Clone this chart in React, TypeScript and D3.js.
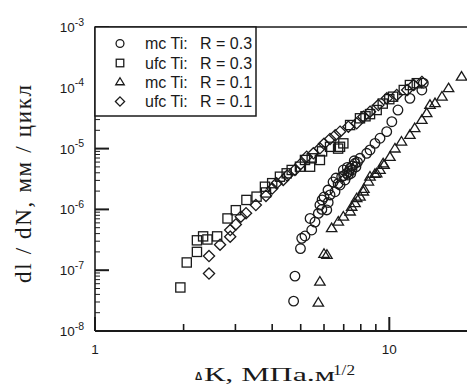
import React from "react";
import * as d3 from "d3";

// ---- data (ΔK in MPa·m^1/2, dl/dN in mm/cycle) ----
const mcTiR03: [number, number][] = [
  [4.73, 3.1e-8], [4.78, 8.0e-8], [4.99, 2.27e-7], [5.04, 3.35e-7], [5.17, 3.65e-7],
  [5.45, 4.58e-7], [5.38, 7.1e-7], [5.59, 6.2e-7], [5.74, 8.6e-7], [5.81, 1.18e-6],
  [5.9, 1.0e-6], [6.13, 9.8e-7], [6.0, 1.6e-6], [6.2, 1.3e-6], [5.91, 1.43e-6],
  [6.29, 1.73e-6], [6.19, 2.08e-6], [6.54, 1.95e-6], [6.44, 2.82e-6], [6.8, 2.52e-6],
  [6.7, 2.65e-6], [6.59, 3.28e-6], [6.89, 3.45e-6], [7.07, 3.05e-6], [7.0, 3.6e-6],
  [7.17, 3.92e-6], [7.25, 3.68e-6], [7.4, 3.9e-6], [6.98, 4.45e-6], [7.3, 4.2e-6],
  [7.36, 4.74e-6], [7.47, 4.45e-6], [7.2, 4.9e-6], [7.5, 5.2e-6], [7.7, 5.0e-6],
  [7.65, 5.73e-6], [7.8, 6.0e-6], [7.6, 6.3e-6], [7.95, 6.93e-6], [8.38, 8.37e-6],
  [8.6, 9.5e-6], [8.94, 1.22e-5], [9.3, 1.48e-5], [9.8, 1.9e-5], [10.2, 2.77e-5],
  [10.7, 4.31e-5], [11.75, 6.71e-5], [12.9, 9.2e-5], [13.05, 1.19e-4],
];

const ufcTiR03: [number, number][] = [
  [1.95, 5.2e-8], [2.05, 1.34e-7], [2.22, 2.0e-7], [2.22, 3.1e-7], [2.33, 3.6e-7],
  [2.41, 3.2e-7], [2.6, 3.6e-7], [2.82, 7.1e-7], [3.01, 9.7e-7], [3.27, 1.43e-6],
  [3.54, 1.62e-6], [3.81, 1.9e-6], [3.78, 2.36e-6], [4.0, 2.7e-6], [4.25, 3.45e-6],
  [4.48, 3.92e-6], [4.66, 4.45e-6], [4.97, 5.04e-6], [5.38, 5.04e-6], [5.17, 6.5e-6],
  [5.45, 6.92e-6], [5.81, 6.5e-6], [5.91, 9.0e-6], [6.29, 1.07e-5], [6.7, 1.0e-5],
  [6.8, 1.07e-5], [6.98, 1.22e-5], [7.36, 2.44e-5], [7.95, 3.15e-5], [8.3, 3.4e-5],
  [8.6, 3.69e-5], [9.06, 4.31e-5], [9.5, 5.5e-5], [10.0, 6.5e-5], [10.3, 7.14e-5],
  [11.2, 9.2e-5], [11.75, 1.11e-4], [12.4, 1.19e-4],
];

const mcTiR01: [number, number][] = [
  [5.74, 2.92e-8], [5.81, 6.47e-8], [6.0, 1.85e-7], [6.14, 1.78e-7], [6.37, 4.89e-7],
  [6.71, 6.28e-7], [6.98, 7.58e-7], [7.36, 9.2e-7], [7.45, 1.1e-6], [7.65, 1.26e-6],
  [7.75, 1.52e-6], [7.95, 1.62e-6], [8.16, 1.96e-6], [8.2, 2.17e-6], [8.49, 2.86e-6],
  [8.6, 3.45e-6], [8.94, 3.82e-6], [9.06, 3.9e-6], [9.3, 4.45e-6], [9.6, 5.37e-6],
  [9.53, 5.7e-6], [10.05, 7.27e-6], [10.45, 1.0e-5], [11.0, 1.3e-5], [11.75, 1.67e-5],
  [12.2, 2.16e-5], [12.9, 2.95e-5], [13.4, 3.81e-5], [13.75, 5.21e-5], [14.3, 5.56e-5],
  [15.1, 7.14e-5], [15.9, 9.8e-5], [17.6, 1.52e-4],
];

const ufcTiR01: [number, number][] = [
  [2.44, 8.8e-8], [2.44, 1.71e-7], [2.66, 2.63e-7], [2.88, 3.56e-7], [2.88, 4.58e-7],
  [3.01, 5.65e-7], [3.13, 7.6e-7], [3.26, 8.65e-7], [3.52, 1.18e-6], [3.81, 1.67e-6],
  [4.0, 2.2e-6], [4.14, 2.69e-6], [4.36, 3.05e-6], [4.5, 3.6e-6], [4.78, 4.45e-6],
  [5.0, 5.6e-6], [5.24, 7.36e-6], [5.52, 8.37e-6], [5.81, 1.01e-5], [6.0, 1.2e-5],
  [6.29, 1.44e-5], [6.55, 1.65e-5], [6.8, 1.9e-5], [7.26, 2.29e-5], [7.75, 2.61e-5],
  [8.16, 3.35e-5], [8.6, 4.05e-5], [9.18, 5.21e-5], [9.81, 6.71e-5], [10.6, 7.62e-5],
  [11.5, 9.2e-5], [12.1, 1.11e-4], [12.9, 1.25e-4],
];

const legendNames = ["mc Ti:", "ufc Ti:", "mc Ti:", "ufc Ti:"];
const legendR = ["R = 0.3", "R = 0.3", "R = 0.1", "R = 0.1"];
const xMajorTicks = [1, 10];
const yDomain: [number, number] = [1e-8, 1e-3];
const xDomain: [number, number] = [1, 20];

type Shape = "circle" | "square" | "triangle" | "diamond";
const series: { data: [number, number][]; shape: Shape }[] = [
  { data: mcTiR03, shape: "circle" },
  { data: ufcTiR03, shape: "square" },
  { data: mcTiR01, shape: "triangle" },
  { data: ufcTiR01, shape: "diamond" },
];

const INK = "#1a1a1a";

function Marker({ shape, x, y, s = 1 }: { shape: Shape; x: number; y: number; s?: number }) {
  const common = { fill: "none", stroke: INK, strokeWidth: 1.3 };
  if (shape === "circle") return <circle cx={x} cy={y} r={4.8 * s} {...common} />;
  if (shape === "square")
    return <rect x={x - 4.6 * s} y={y - 4.6 * s} width={9.2 * s} height={9.2 * s} {...common} />;
  if (shape === "triangle") {
    const h = 5.2 * s;
    return (
      <path
        d={`M${x},${y - h} L${x + 5.2 * s},${y + 0.65 * h} L${x - 5.2 * s},${y + 0.65 * h} Z`}
        {...common}
      />
    );
  }
  const r = 5.6 * s;
  return <path d={`M${x},${y - r} L${x + r},${y} L${x},${y + r} L${x - r},${y} Z`} {...common} />;
}

export default function App() {
  const W = 467;
  const H = 386;
  const left = 95;
  const top = 27;
  const bottom = 331;
  const decadeX = 294.3;

  const x = d3.scaleLog().domain(xDomain).range([left, left + decadeX * Math.log10(xDomain[1])]);
  const y = d3.scaleLog().domain(yDomain).range([bottom, top]);

  const yTicks = y.ticks();
  const xTicks = x.ticks().filter((t) => t <= 20);
  const isPow10 = (v: number) => Math.abs(Math.log10(v) - Math.round(Math.log10(v))) < 1e-9;

  const sans = "'Liberation Sans', Arial, sans-serif";
  const serif = "'Liberation Serif', 'Times New Roman', serif";

  const legendRows = [43.5, 63, 82, 101.5];

  return (
    <div style={{ position: "absolute", left: 0, top: 0 }}>
      <svg width={W} height={H} style={{ display: "block", background: "#fff" }}>
        <rect x={0} y={0} width={W} height={H} fill="#fff" />
        {/* data */}
        {series.map((s, si) =>
          s.data.map((d, i) => <Marker key={`${si}-${i}`} shape={s.shape} x={x(d[0])} y={y(d[1])} />)
        )}

        {/* frame */}
        <line x1={left} x2={W + 20} y1={top} y2={top} stroke={INK} strokeWidth={1.5} />
        <line x1={left} x2={left} y1={top} y2={bottom} stroke={INK} strokeWidth={1.6} />
        <line x1={left} x2={W + 20} y1={bottom} y2={bottom} stroke={INK} strokeWidth={2.2} />

        {/* y ticks */}
        {yTicks.map((t, i) => {
          const major = isPow10(t);
          return (
            <line
              key={`yt${i}`}
              x1={left}
              x2={left + (major ? 14 : 5)}
              y1={y(t)}
              y2={y(t)}
              stroke={INK}
              strokeWidth={major ? 2 : 1}
            />
          );
        })}
        {yTicks.filter(isPow10).map((t, i) => {
          const e = Math.round(Math.log10(t));
          return (
            <text key={`yl${i}`} x={84} y={y(t) + 5} textAnchor="end" fontFamily={sans} fontSize={13.5} fill={INK}>
              <tspan>10</tspan>
              <tspan dy={-6.5} fontSize={10.5}>{String(e)}</tspan>
            </text>
          );
        })}

        {/* x ticks */}
        {xTicks.map((t, i) => {
          const major = isPow10(t);
          return (
            <line
              key={`xt${i}`}
              x1={x(t)}
              x2={x(t)}
              y1={bottom}
              y2={bottom - (major ? 14 : 7)}
              stroke={INK}
              strokeWidth={major ? 2 : 1.6}
            />
          );
        })}
        {xMajorTicks.map((t, i) => (
          <text key={`xl${i}`} x={x(t)} y={354} textAnchor="middle" fontFamily={sans} fontSize={13.5} fill={INK}>
            {String(t)}
          </text>
        ))}

        {/* legend */}
        <rect x={left} y={top} width={161} height={89} fill="#fff" stroke={INK} strokeWidth={1.5} />
        {series.map((s, i) => (
          <g key={`lg${i}`}>
            <Marker shape={s.shape} x={120} y={legendRows[i]} s={0.82} />
            <text x={145} y={legendRows[i] + 5.5} fontFamily={sans} fontSize={16} fill={INK}>
              {legendNames[i]}
            </text>
            <text x={200} y={legendRows[i] + 5.5} fontFamily={sans} fontSize={16} fill={INK}>
              {legendR[i]}
            </text>
          </g>
        ))}

        {/* axis titles */}
        <text
          transform={`translate(31,184) rotate(-90)`}
          textAnchor="middle"
          fontFamily={serif}
          fontSize={23}
          fill={INK}
          textLength={198}
          lengthAdjust="spacing"
        >
          dl / dN, мм / цикл
        </text>
        <text x={195} y={380} fontFamily={sans} fontWeight="bold" fontSize={10} fill={INK}>
          Δ
        </text>
        <text x={204} y={381} fontFamily={serif} fontSize={18.5} fill={INK} textLength={131} lengthAdjust="spacingAndGlyphs">
          К, МПа.м
        </text>
        <text x={333} y={375} fontFamily={serif} fontSize={14} fill={INK} textLength={22} lengthAdjust="spacingAndGlyphs">
          1/2
        </text>
      </svg>
    </div>
  );
}
